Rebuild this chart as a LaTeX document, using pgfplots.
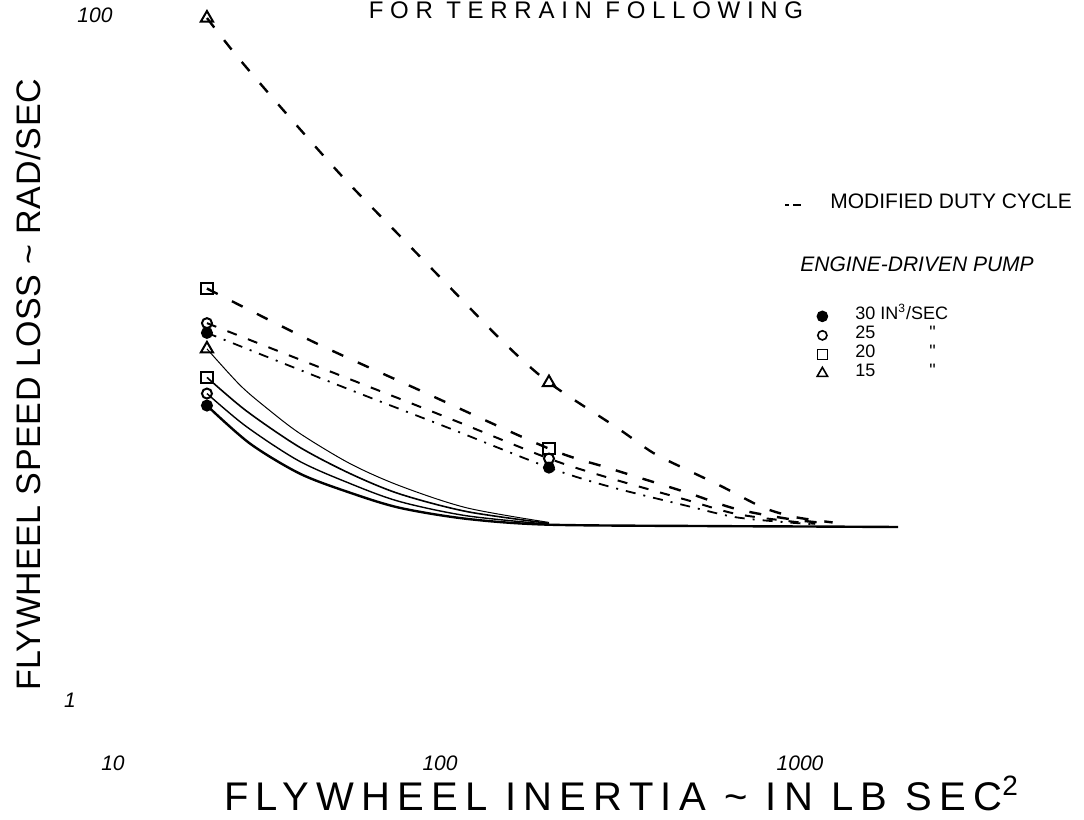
\documentclass[border=0pt]{standalone}
\usepackage{pgfplots}
\pgfplotsset{compat=1.18}
\usepackage{fontspec}
\setmainfont{Liberation Sans}
\begin{document}
\begin{tikzpicture}
\begin{axis}[
  at={(52pt,-350pt)}, anchor=south west,
  scale only axis, width=423.6pt, height=342.5pt,
  xmode=log, ymode=log,
  xmin=10, xmax=3000, ymin=1, ymax=100,
  axis line style={draw=none},
  tick style={draw=none},
  xminorticks=false, yminorticks=false,
  clip=false,
  /pgf/number format/assume math mode=true,
  xtick={10,100,1000},
  xticklabels={\hspace*{9pt}10, 100\hspace*{6pt}, \hspace*{12pt}1000},
  ytick={1,100},
  yticklabels={1\hspace*{25pt}, 100},
  xticklabel style={anchor=center, yshift=-31.5pt, font=\fontsize{10.5}{12}\selectfont\itshape},
  yticklabel style={anchor=center, xshift=-4.5pt, font=\fontsize{10.5}{12}\selectfont\itshape},
  xlabel={FLYWHEEL INERTIA \textasciitilde{} IN LB SEC\textsuperscript{2}},
  xlabel style={at={(axis description cs:0.611,-0.137)}, anchor=center, inner sep=0pt, font=\fontsize{20}{22}\selectfont\addfontfeature{LetterSpace=18}},
  ylabel={FLYWHEEL SPEED LOSS \textasciitilde{} RAD/SEC},
  ylabel style={at={(axis description cs:-0.0897,0.46)}, anchor=center, font=\fontsize{17}{20}\selectfont\addfontfeature{LetterSpace=2}},
  legend style={at={(axis description cs:0.8274,0.630)}, anchor=north west, draw=none, fill=none,
    inner sep=0pt, row sep=0pt, column sep=8pt, font=\fontsize{9}{10}\selectfont,
    nodes={inner sep=0pt, text height=6.5pt, text depth=3pt}},
  legend cell align=left,
]
% modified duty cycle (dashed)
\addplot[forget plot, smooth, line width=1.2pt, dash pattern=on 6pt off 8pt] coordinates {
 (20,98) (24.7,75) (34.8,50.4) (50.4,33.3) (71.9,23.1) (101,16.3) (147,11.1) (200,8.45)
 (316,6.24) (403,5.27) (500,4.73) (641,4.2) (845,3.65) (1050,3.42) (1350,3.3)};
\addplot[forget plot, smooth, line width=1.2pt, dash pattern=on 6pt off 8pt] coordinates {
 (20,15.9) (41,11.1) (82,8.1) (200,5.42) (300,4.75) (500,4.05) (700,3.62) (1000,3.38) (1300,3.28)};
\addplot[forget plot, smooth, line width=1pt, dash pattern=on 5pt off 6pt] coordinates {
 (20,12.6) (50,8.8) (100,6.7) (200,5.07) (300,4.45) (500,3.85) (700,3.5) (1000,3.33) (1200,3.27)};
\addplot[forget plot, smooth, line width=0.9pt, dash pattern=on 5pt off 4pt on 1pt off 4pt] coordinates {
 (20,11.8) (50,8.2) (100,6.27) (200,4.77) (300,4.2) (500,3.7) (700,3.42) (1000,3.3) (1200,3.26)};
% engine-driven pump (solid)
\addplot[forget plot, smooth, line width=0.5pt] coordinates {
 (20,10.6) (25,8.3) (30,7.1) (37.4,6.0) (52.4,4.9) (73.3,4.22) (115,3.64) (200,3.3)};
\addplot[forget plot, smooth, line width=0.8pt] coordinates {
 (20,8.75) (26,7.0) (37,5.5) (52,4.6) (73,4.0) (115,3.55) (200,3.28)};
\addplot[forget plot, smooth, line width=0.7pt] coordinates {
 (20,7.85) (26,6.3) (37,5.0) (52,4.3) (73,3.8) (115,3.45) (200,3.26)};
\addplot[forget plot, smooth, line width=1.2pt] coordinates {
 (20,7.24) (26.7,5.61) (37.4,4.58) (52.4,4.03) (73.3,3.64) (115,3.38) (200,3.25) (600,3.22) (1200,3.21) (2100,3.2)};
% data points
\addplot[forget plot, only marks, mark=triangle, mark size=3.5pt, line width=1pt] coordinates {(20,98) (20,10.6) (200,8.45)};
\addplot[forget plot, only marks, mark=square, mark size=2.8pt, line width=1pt] coordinates {(20,15.9) (20,8.75) (200,5.42)};
\addplot[forget plot, only marks, mark=o, mark size=2.5pt, line width=1pt] coordinates {(20,12.6) (20,7.85) (200,5.07)};
\addplot[forget plot, only marks, mark=*, mark size=2.5pt, line width=1pt] coordinates {(20,11.8) (20,7.24) (200,4.77)};
% legend
\addlegendimage{legend image code/.code={\draw[overlay, line width=1pt, dash pattern=on 2pt off 2pt on 4pt off 2pt] (-10pt,36.5pt) -- (-1.5pt,36.5pt); \path[draw=none,fill=none] (0pt,0pt) rectangle (17pt,0pt);}}
\addlegendentry{\smash{\raisebox{36.5pt}{\hspace*{-12.5pt}\fontsize{10.5}{12}\selectfont MODIFIED DUTY CYCLE}}}
\addlegendimage{legend image code/.code={\path[draw=none,fill=none] (0pt,0pt) rectangle (17pt,0pt);}}
\addlegendentry{\smash{\raisebox{14.5pt}{\hspace*{-27.5pt}\fontsize{10.5}{12}\selectfont\itshape ENGINE-DRIVEN PUMP}}}
\addlegendimage{legend image code/.code={\path[draw=none,fill=none] (0pt,0pt) rectangle (17pt,0pt); \draw[line width=0.8pt, mark=*, mark size=2.5pt] plot coordinates {(8.5pt,0pt)};}}
\addlegendentry{30 IN\textsuperscript{3}/SEC}
\addlegendimage{legend image code/.code={\path[draw=none,fill=none] (0pt,0pt) rectangle (17pt,0pt); \draw[line width=0.8pt, mark=o, mark size=2.3pt] plot coordinates {(8.5pt,0pt)};}}
\addlegendentry{25\hspace*{27pt}\textquotedbl}
\addlegendimage{legend image code/.code={\path[draw=none,fill=none] (0pt,0pt) rectangle (17pt,0pt); \draw[line width=0.8pt, mark=square, mark size=2.5pt] plot coordinates {(8.5pt,0pt)};}}
\addlegendentry{20\hspace*{27pt}\textquotedbl}
\addlegendimage{legend image code/.code={\path[draw=none,fill=none] (0pt,0pt) rectangle (17pt,0pt); \draw[line width=0.8pt, mark=triangle, mark size=3pt] plot coordinates {(8.5pt,0pt)};}}
\addlegendentry{15\hspace*{27pt}\textquotedbl}
\end{axis}
\node[anchor=base, font=\fontsize{12}{14}\selectfont\addfontfeature{LetterSpace=28}] at (293pt,-9pt) {FOR TERRAIN FOLLOWING};
\pgfresetboundingbox
\path[use as bounding box] (0,0) rectangle (542pt,-410pt);
\end{tikzpicture}
\end{document}
